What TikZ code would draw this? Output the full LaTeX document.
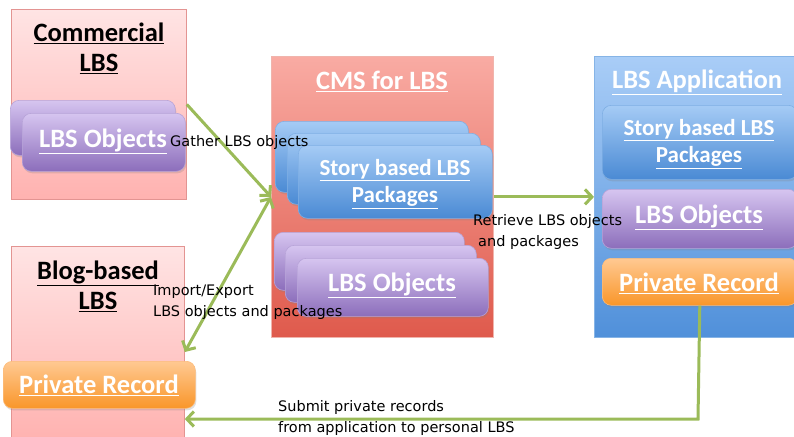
\documentclass[tikz,border=0pt]{standalone}
\usepackage{fontspec}
\setmainfont{Carlito}
\newfontfamily\lblfont{DejaVu Sans}
\usetikzlibrary{arrows.meta,shadows,calc}
\definecolor{grn}{HTML}{9BBB59}
\definecolor{pinkT}{HTML}{FFE4E4}
\definecolor{pinkB}{HTML}{FFB2B0}
\definecolor{pinkD}{HTML}{E39492}
\definecolor{redT}{HTML}{F9ABA3}
\definecolor{redB}{HTML}{DF5A4C}
\definecolor{redD}{HTML}{F0B4AC}
\definecolor{bluT}{HTML}{A9CDF7}
\definecolor{bluB}{HTML}{5090DA}
\definecolor{bluD}{HTML}{86B4E6}
\definecolor{ibT}{HTML}{A5CBF5}
\definecolor{ibB}{HTML}{4A8AD4}
\definecolor{ibD}{HTML}{7FAFE4}
\definecolor{puT}{HTML}{D6C5F0}
\definecolor{puB}{HTML}{8C6EBB}
\definecolor{puD}{HTML}{B7A3D8}
\definecolor{orT}{HTML}{FFC992}
\definecolor{orB}{HTML}{F9962A}
\definecolor{orD}{HTML}{FDBD7C}
\newcommand{\myul}[1]{\underline{#1}}
\tikzset{
  outerbox/.style={draw, line width=0.8pt, anchor=north west, inner sep=0pt},
  pinkbox/.style={outerbox, draw=pinkD, top color=pinkT, bottom color=pinkB},
  redbox/.style={outerbox, draw=redD, top color=redT, bottom color=redB},
  appbox/.style={outerbox, draw=bluD, top color=bluT, bottom color=bluB},
  innerbox/.style={draw, line width=0.6pt, rounded corners=9pt, anchor=north west, inner sep=0pt,
     drop shadow={opacity=0.25, shadow xshift=1pt, shadow yshift=-2pt}},
  bluebox/.style={innerbox, draw=ibD, top color=ibT, bottom color=ibB},
  purplebox/.style={innerbox, draw=puD, top color=puT, bottom color=puB},
  orangebox/.style={innerbox, draw=orD, top color=orT, bottom color=orB},
  titletext/.style={align=center, inner sep=0pt, font=\fontsize{26.5}{30}\selectfont\bfseries},
  intext/.style={align=center, inner sep=0pt, text=white, font=\fontsize{26.5}{30}\selectfont\bfseries},
  storytext/.style={align=center, inner sep=0pt, text=white, font=\fontsize{23}{27}\selectfont\bfseries},
  lbl/.style={align=left, anchor=west, inner sep=0pt, font=\lblfont\fontsize{14.5}{21}\selectfont},
  garrow/.style={draw=grn, line width=3pt, -{Straight Barb[length=7pt,width=15pt]}},
  garrow2/.style={draw=grn, line width=3pt, {Straight Barb[length=7pt,width=15pt]}-{Straight Barb[length=7pt,width=15pt]}},
}
\begin{document}
\begin{tikzpicture}[x=1pt,y=-1pt]
\useasboundingbox (0,0) rectangle (794,436);
% Commercial LBS
\node[pinkbox, minimum width=175pt, minimum height=190pt] (com) at (11,9) {};
\node[titletext] (comt) at (99,48) {\myul{Commercial}\\\myul{LBS}};
\node[purplebox, minimum width=165pt, minimum height=55pt] (como1) at (10,100) {};
\node[purplebox, minimum width=163pt, minimum height=58pt] (como2) at (22,113) {};
\node[intext] (comot) at (103,141) {\myul{LBS Objects}};
% Blog-based LBS
\node[pinkbox, minimum width=173pt, minimum height=195pt] (blog) at (11,246) {};
\node[titletext] (blogt) at (98,286) {\myul{Blog-based}\\\myul{LBS}};
\node[orangebox, minimum width=192pt, minimum height=47pt] (bpr) at (3,361) {};
\node[intext] (bprt) at (99,385) {\myul{Private Record}};
% CMS for LBS
\node[redbox, minimum width=222pt, minimum height=281pt] (cms) at (271,56) {};
\node[titletext, text=white] (cmst) at (382,81) {\myul{CMS for LBS}};
\node[bluebox, minimum width=193pt, minimum height=71pt] (cs1) at (275,121) {};
\node[bluebox, minimum width=193pt, minimum height=71pt] (cs2) at (287,133) {};
\node[bluebox, minimum width=194pt, minimum height=73pt] (cs3) at (298,145) {};
\node[storytext] (cst) at (395,184) {\myul{Story based LBS}\\\myul{Packages}};
\node[purplebox, minimum width=190pt, minimum height=58pt] (co1) at (274,232) {};
\node[purplebox, minimum width=191pt, minimum height=57pt] (co2) at (285,245) {};
\node[purplebox, minimum width=191pt, minimum height=58pt] (co3) at (297,258) {};
\node[intext] (cot) at (392,285) {\myul{LBS Objects}};
% LBS Application
\node[appbox, minimum width=215pt, minimum height=281pt] (app) at (594,56) {};
\node[titletext, text=white] (appt) at (697,82) {\myul{LBS Application}};
\node[bluebox, minimum width=195pt, minimum height=74pt] (as) at (602,105) {};
\node[storytext] (ast) at (699,144) {\myul{Story based LBS}\\\myul{Packages}};
\node[purplebox, minimum width=195pt, minimum height=59pt] (ao) at (602,189) {};
\node[intext] (aot) at (699,217) {\myul{LBS Objects}};
\node[orangebox, minimum width=195pt, minimum height=47pt] (apr) at (602,258) {};
\node[intext] (aprt) at (699,283) {\myul{Private Record}};
% connectors
\coordinate (bimp) at ($(blog.north east)+(0,106)$);
\coordinate (turn) at (698,419);
\coordinate (subend) at (blog.east |- turn);
\draw[garrow] (com.east) -- (cms.west);
\draw[garrow2] (cms.west) -- (bimp);
\draw[garrow] (cms.east) -- (app.west);
\draw[garrow] (apr.south) -- (turn) -- (subend);
% labels
\node[lbl] (l1) at (170,142) {Gather LBS objects};
\node[lbl] (l2) at (153,302) {Import/Export\\LBS objects and packages};
\node[lbl] (l3) at (473,232) {Retrieve LBS objects\\\hspace*{5pt}and packages};
\node[lbl] (l4) at (278,418) {Submit private records\\from application to personal LBS};
\end{tikzpicture}
\end{document}
